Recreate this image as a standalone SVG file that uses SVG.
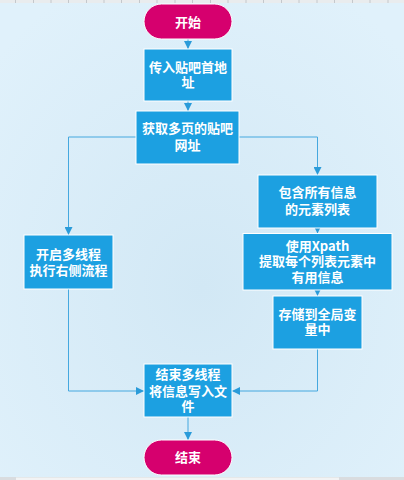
<svg xmlns="http://www.w3.org/2000/svg" width="404" height="480" viewBox="0 0 404 480">
<defs>
<radialGradient id="bg" cx="0.5" cy="0.6" r="0.7">
<stop offset="0" stop-color="#d2e8f5"/>
<stop offset="1" stop-color="#e0f1fb"/>
</radialGradient>
<marker id="ah" viewBox="0 0 8 8" refX="8" refY="4" markerWidth="8" markerHeight="8" markerUnits="userSpaceOnUse" orient="auto">
<path d="M0,0 L8,4 L0,8 Z" fill="#2a9bd9"/>
</marker>
<style>
.box{fill:#1ca0e1;stroke:#ffffff;stroke-width:1}
.term{fill:#d6006e;stroke:#ffffff;stroke-width:1}
.t{font-family:"Noto Sans CJK SC","Noto Sans",sans-serif;font-size:13px;font-weight:bold;fill:#ffffff;text-anchor:middle}
.c{fill:none;stroke:#45a8df;stroke-width:1}
</style>
</defs>
<rect x="0" y="0" width="404" height="480" fill="url(#bg)"/>
<rect x="0" y="0" width="404" height="3" fill="#e9ecee"/>
<g stroke="#c4c8cc" stroke-width="1">
<path d="M15.5,0V3M33.5,0V3M51,0V3M68.5,0V3M86.5,0V3M104,0V3M121.5,0V3M139.5,0V3M157,0V3M175,0V3M192.5,0V3M210.5,0V3M228,0V3M246,0V3M263.5,0V3M281.5,0V3M299,0V3M317,0V3M334.5,0V3M352.5,0V3M370,0V3M388,0V3"/>
</g>
<rect x="0" y="477" width="404" height="3" fill="#d9dcdf"/>
<rect x="16" y="477.5" width="323" height="2.5" fill="#f2f3f4"/>

<g id="connectors">
<line class="c" x1="188" y1="39" x2="188" y2="49" marker-end="url(#ah)"/>
<line class="c" x1="188" y1="101" x2="188" y2="111" marker-end="url(#ah)"/>
<polyline class="c" points="136,137 68.5,137 68.5,235" marker-end="url(#ah)"/>
<polyline class="c" points="239,137 317.5,137 317.5,175" marker-end="url(#ah)"/>
<line class="c" x1="317.5" y1="228" x2="317.5" y2="233.5" marker-end="url(#ah)"/>
<line class="c" x1="317.5" y1="290" x2="317.5" y2="296" marker-end="url(#ah)"/>
<polyline class="c" points="68.5,289 68.5,391 144,391" marker-end="url(#ah)"/>
<polyline class="c" points="317.5,349 317.5,391 232,391" marker-end="url(#ah)"/>
<line class="c" x1="188" y1="417" x2="188" y2="440" marker-end="url(#ah)"/>
</g>

<g id="start">
<rect class="term" x="144" y="4" width="88" height="35" rx="17.5"/>
<text class="t" x="188" y="26.5">开始</text>
</g>
<g id="input-url">
<rect class="box" x="144" y="49" width="88" height="52"/>
<text class="t" x="188" y="71.5">传入贴吧首地</text>
<text class="t" x="188" y="87">址</text>
</g>
<g id="get-pages">
<rect class="box" x="136" y="111" width="103" height="53"/>
<text class="t" x="187.5" y="133">获取多页的贴吧</text>
<text class="t" x="187.5" y="149.5">网址</text>
</g>
<g id="multithread">
<rect class="box" x="24" y="235" width="89" height="54"/>
<text class="t" x="68.5" y="258.5">开启多线程</text>
<text class="t" x="68.5" y="274.5">执行右侧流程</text>
</g>
<g id="element-list">
<rect class="box" x="258" y="175" width="119" height="53"/>
<text class="t" x="317.5" y="197">包含所有信息</text>
<text class="t" x="317.5" y="213.5">的元素列表</text>
</g>
<g id="xpath">
<rect class="box" x="243" y="233.5" width="149" height="56.5"/>
<text class="t" x="317.5" y="250.5">使用Xpath</text>
<text class="t" x="317.5" y="266">提取每个列表元素中</text>
<text class="t" x="317.5" y="282">有用信息</text>
</g>
<g id="store">
<rect class="box" x="273" y="296" width="89" height="53"/>
<text class="t" x="317.5" y="318.5">存储到全局变</text>
<text class="t" x="317.5" y="334">量中</text>
</g>
<g id="end-multi">
<rect class="box" x="144" y="364" width="88" height="53"/>
<text class="t" x="188" y="378.5">结束多线程</text>
<text class="t" x="188" y="396">将信息写入文</text>
<text class="t" x="188" y="411">件</text>
</g>
<g id="end">
<rect class="term" x="144" y="440" width="88" height="35" rx="17.5"/>
<text class="t" x="188" y="462">结束</text>
</g>
</svg>
